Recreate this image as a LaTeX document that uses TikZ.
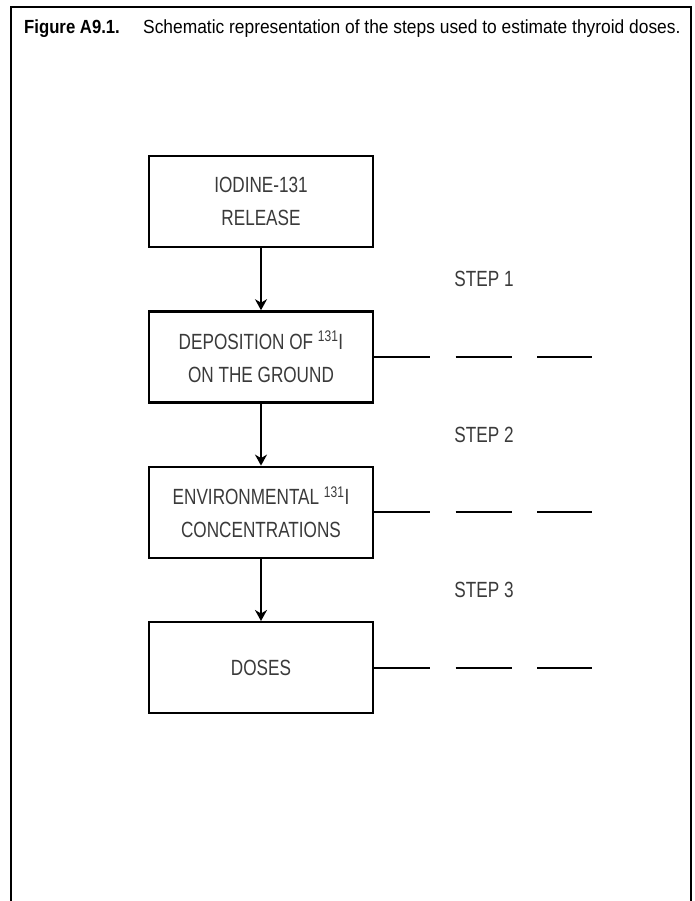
\documentclass[tikz,border=0pt]{standalone}
\usepackage{fontspec}
\setmainfont{Liberation Sans}
\newfontfamily\narrowsans[FakeStretch=0.78]{Liberation Sans}
\newfontfamily\capsans[FakeStretch=0.88]{Liberation Sans}
\newfontfamily\capregular[FakeStretch=0.915]{Liberation Sans}
\usepackage{tikz}
\usetikzlibrary{arrows.meta,positioning,calc}
\definecolor{inkgray}{HTML}{3A3A3A}

\begin{document}
\begin{tikzpicture}[x=1pt,y=1pt,
  box/.style={rectangle,draw=black,line width=2.4pt,minimum width=224pt,minimum height=91pt,align=center,inner sep=0pt,text=inkgray,font=\narrowsans\fontsize{22}{33}\selectfont},
  steplbl/.style={text=inkgray,font=\narrowsans\fontsize{22}{26}\selectfont},
  caption/.style={anchor=base west,inner sep=0pt,font=\capregular\fontsize{19}{23}\selectfont},
  arr/.style={-{Stealth[length=11pt,width=12pt,inset=3.5pt]},line width=2pt},
  stub/.style={line width=2pt,dash pattern=on 56pt off 25.5pt},
  node distance=62pt
]
\useasboundingbox (0,0) rectangle (694,-901);
% frame, open at the bottom
\draw[line width=2.5pt] (11,-901) -- (11,-7) -- (691,-7) -- (691,-901);
\node[caption,font=\capsans\bfseries\fontsize{19}{23}\selectfont] (fig) at (24,-34) {Figure A9.1.};
\node[caption] (cap) at (143,-34) {Schematic representation of the steps used to estimate thyroid doses.};
% the four steps
\node[box] (rel) at (261,-201.5) {IODINE-131\\RELEASE};
\node[box,below=of rel] (dep) {DEPOSITION OF \textsuperscript{131}I\\ON THE GROUND};
\node[box,below=of dep] (env) {ENVIRONMENTAL \textsuperscript{131}I\\CONCENTRATIONS};
\node[box,below=of env] (dos) {DOSES};
\node[steplbl] (s1) at ($(rel.south)!.5!(dep.north)+(223,0)$) {STEP 1};
\node[steplbl] (s2) at ($(dep.south)!.5!(env.north)+(223,0)$) {STEP 2};
\node[steplbl] (s3) at ($(env.south)!.5!(dos.north)+(223,0)$) {STEP 3};
\coordinate (dep-end) at ($(dep.east)+(218,0)$);
\coordinate (env-end) at ($(env.east)+(218,0)$);
\coordinate (dos-end) at ($(dos.east)+(218,0)$);
\draw[arr] (rel)--(dep); \draw[arr] (dep)--(env); \draw[arr] (env)--(dos);
\draw[stub] (dep.east)--(dep-end); \draw[stub] (env.east)--(env-end); \draw[stub] (dos.east)--(dos-end);
\end{tikzpicture}
\end{document}
